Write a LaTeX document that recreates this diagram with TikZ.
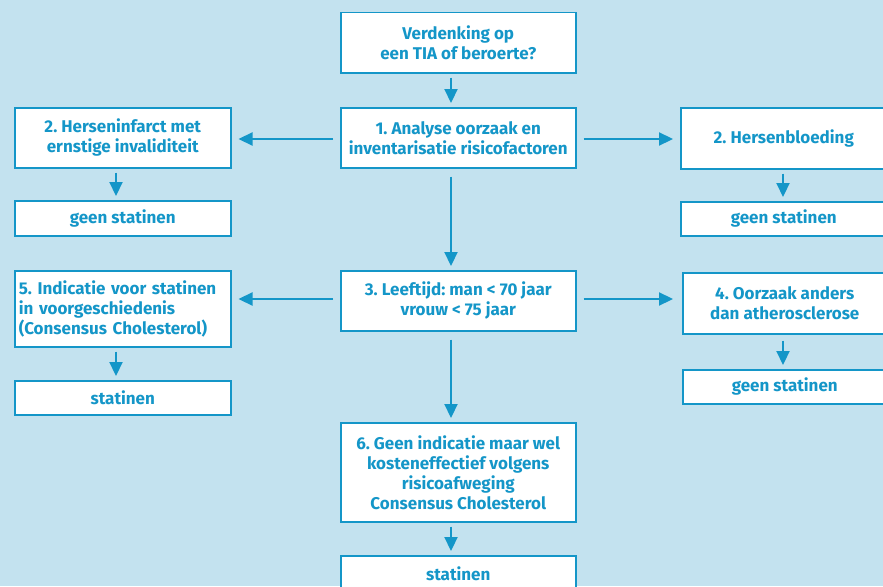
\documentclass[tikz,border=0pt]{standalone}
\usepackage{fontspec}
\setmainfont{Fira Sans}
\frenchspacing
\usetikzlibrary{arrows.meta,calc}
\definecolor{bg}{HTML}{C3E2EF}
\definecolor{bl}{HTML}{1496C8}
\begin{document}
\begin{tikzpicture}[x=1pt,y=-1pt,
  box/.style={draw=bl,line width=1.5pt,fill=white,text=bl,font=\fontsize{17}{20}\selectfont\bfseries\frenchspacing,align=center,inner sep=0pt,anchor=north west},
  arr/.style={draw=bl,line width=2.2pt,-{Triangle[length=14pt,width=13pt]},shorten <=4pt,shorten >=4pt}]
\fill[bg] (0,0) rectangle (883,586);
\useasboundingbox (0,0) rectangle (883,586);
\begin{scope}
\clip (0,0) rectangle (883,586);
% center column
\node[box,minimum width=235pt,minimum height=60pt] (top) at (340,12) {Verdenking op\\een TIA of beroerte?};
\node[box,minimum width=235pt,minimum height=60pt] (b1) at (340,107) {1. Analyse oorzaak en\\inventarisatie risicofactoren};
\node[box,minimum width=235pt,minimum height=60pt] (b3) at (340,270) {3. Leeftijd: man < 70 jaar\\vrouw < 75 jaar};
\node[box,minimum width=235pt,minimum height=99pt] (b6) at (340,422) {6. Geen indicatie maar wel\\kosteneffectief volgens\\risicoafweging\\Consensus Cholesterol};
\node[box,minimum width=235pt,minimum height=36pt] (s6) at (340,555) {statinen};
% left column
\node[box,minimum width=216pt,minimum height=60pt] (l2) at (14,107) {2. Herseninfarct met\\ernstige invaliditeit};
\node[box,minimum width=216pt,minimum height=35pt] (lg) at (14,200) {geen statinen};
\node[box,minimum width=216pt,minimum height=76pt,align=left,text width=208pt] (l5) at (14,270) {5. Indicatie voor statinen\\in voorgeschiedenis\\(Consensus Cholesterol)};
\node[box,minimum width=216pt,minimum height=34pt] (ls) at (14,380) {statinen};
% right column
\node[box,minimum width=206pt,minimum height=61pt] (r2) at (680,107) {2. Hersenbloeding};
\node[box,minimum width=206pt,minimum height=34pt] (rg) at (680,201) {geen statinen};
\node[box,minimum width=204pt,minimum height=61pt] (r4) at (682,272) {4. Oorzaak anders\\dan atherosclerose};
\node[box,minimum width=204pt,minimum height=34pt] (rg2) at (682,369) {geen statinen};
\end{scope}
% arrows
\coordinate (ax) at (451,0);
\coordinate (y1) at (0,139);
\coordinate (y3) at (0,299);
\draw[arr] (top.south -| ax) -- (b1.north -| ax);
\draw[arr,shorten <=8pt] (b1.south -| ax) -- (b3.north -| ax);
\draw[arr,shorten <=8pt] (b3.south -| ax) -- (b6.north -| ax);
\draw[arr] (b6.south -| ax) -- (s6.north -| ax);
\draw[arr,shorten <=7pt,shorten >=7pt] (b1.west |- y1) -- (l2.east |- y1);
\draw[arr,shorten <=7pt,shorten >=7pt] (b1.east |- y1) -- (r2.west |- y1);
\draw[arr,shorten <=7pt,shorten >=7pt] (b3.west |- y3) -- (l5.east |- y3);
\draw[arr,shorten <=7pt,shorten >=9pt] (b3.east |- y3) -- (r4.west |- y3);
\draw[arr] (l2.south -| {(116,0)}) -- (lg.north -| {(116,0)});
\draw[arr] (l5.south -| {(116,0)}) -- (ls.north -| {(116,0)});
\draw[arr] (r2.south -| {(783,0)}) -- (rg.north -| {(783,0)});
\draw[arr,shorten <=6pt] (r4.south -| {(783,0)}) -- (rg2.north -| {(783,0)});
\end{tikzpicture}
\end{document}
